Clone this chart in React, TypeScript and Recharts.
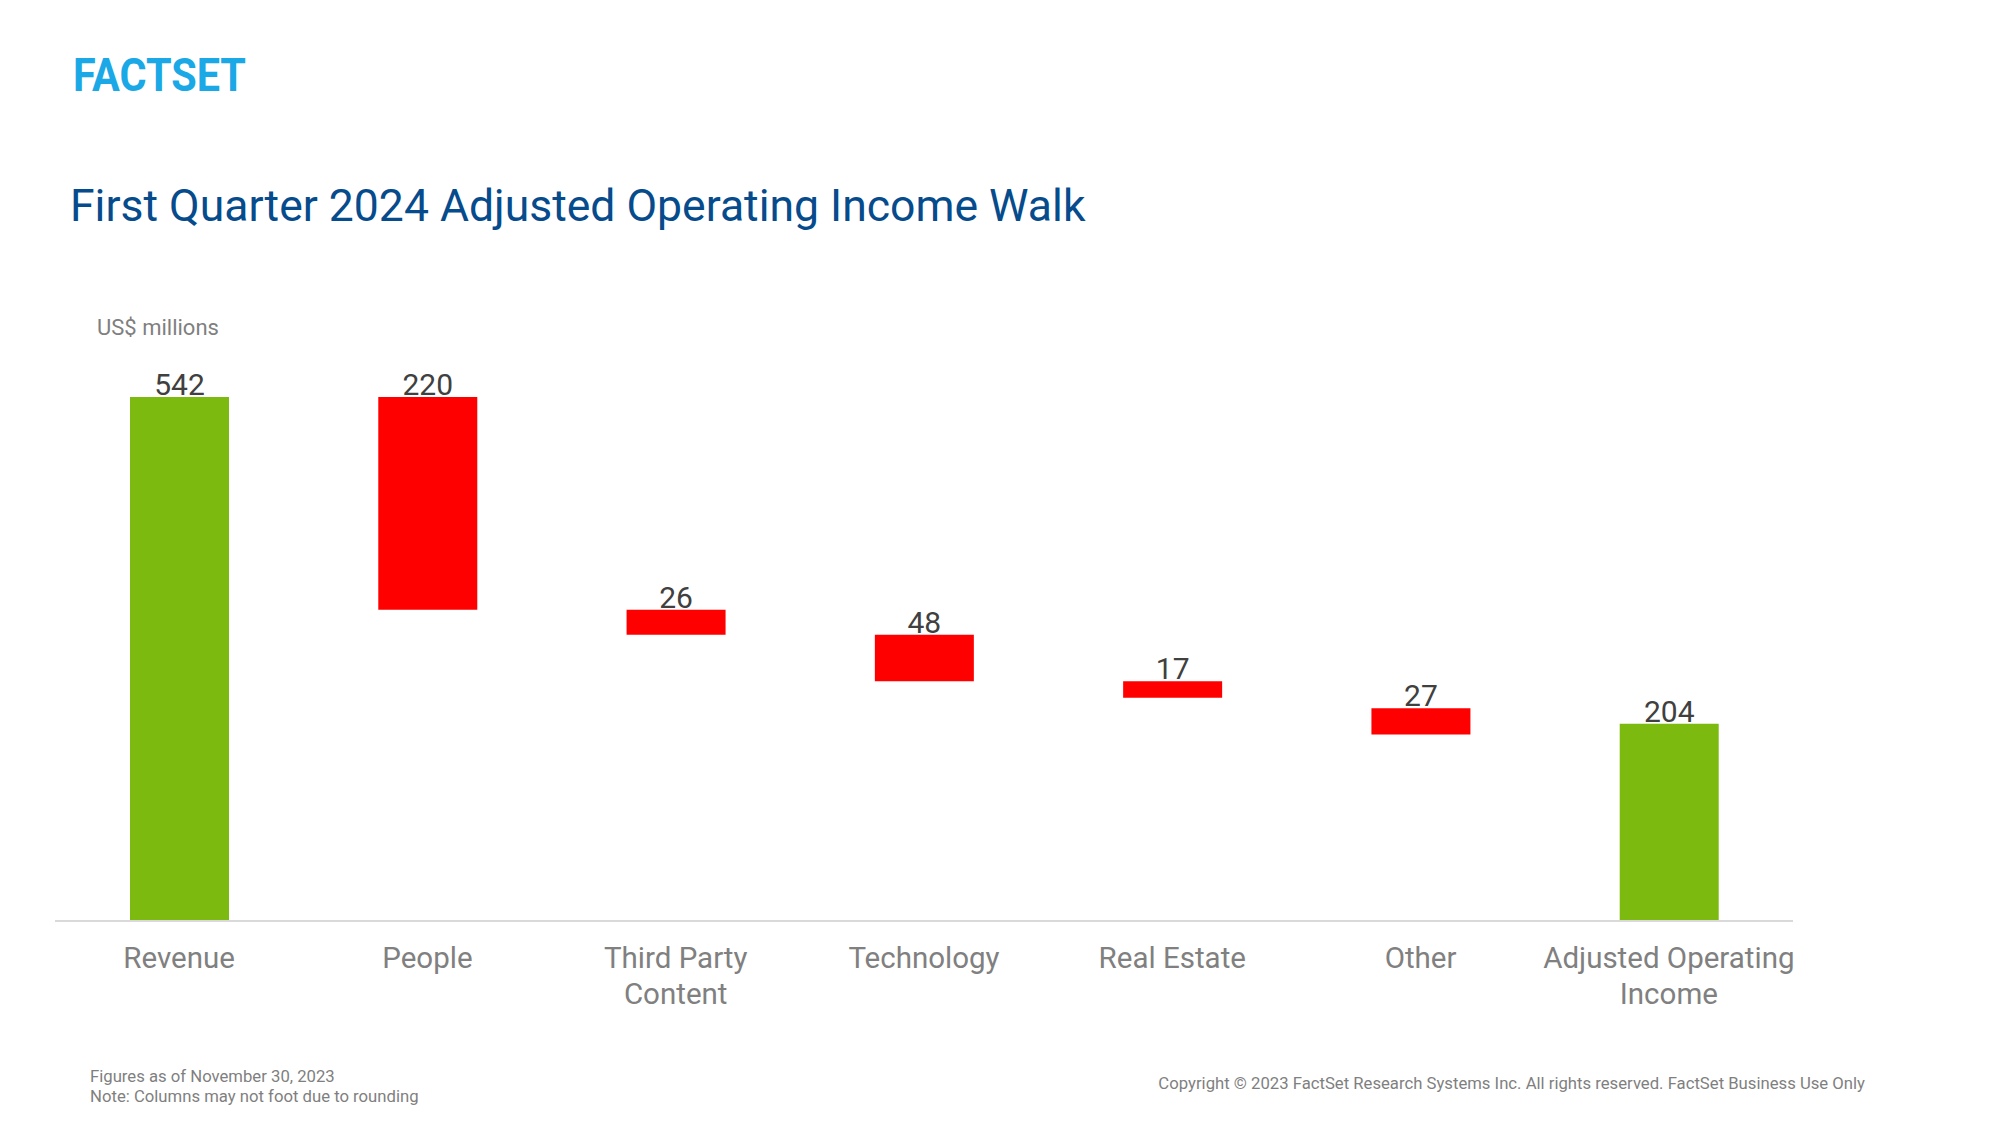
import React from "react";
import { BarChart, Bar, XAxis, YAxis, Cell, LabelList } from "recharts";

const categories = [
  "Revenue",
  "People",
  "Third Party\nContent",
  "Technology",
  "Real Estate",
  "Other",
  "Adjusted Operating\nIncome",
];
const values = [542, 220, 26, 48, 17, 27, 204];
// floating start level of each column
const bases = [0, 322, 296, 248, 231, 193, 0];
const kinds = ["total", "down", "down", "down", "down", "down", "total"];

const GREEN = "#7DBA0F";
const RED = "#FF0000";
const FONT = "Roboto, 'Noto Sans', sans-serif";

const data = categories.map((name, i) => ({
  name,
  base: bases[i],
  value: values[i],
  kind: kinds[i],
}));

const CategoryTick = (props: any) => {
  const { x, y, payload } = props;
  const lines = String(payload.value).split("\n");
  return (
    <g>
      {lines.map((l, i) => (
        <text
          key={i}
          x={x}
          y={y + 47 + i * 36}
          textAnchor="middle"
          fontFamily={FONT}
          fontSize={29.5}
          fill="#808080"
        >
          {l}
        </text>
      ))}
    </g>
  );
};

export default function App() {
  return (
    <div
      style={{
        position: "absolute",
        left: 0,
        top: 0,
        width: 2000,
        height: 1125,
        background: "#ffffff",
        overflow: "hidden",
      }}
    >
      <BarChart
        width={2000}
        height={1125}
        data={data}
        margin={{ top: 341, right: 207, bottom: 144, left: 55 }}
        barSize={99}
      >
        <XAxis
          dataKey="name"
          height={60}
          tickLine={false}
          tickSize={0}
          tickMargin={0}
          axisLine={{ stroke: "#D9D9D9", strokeWidth: 2 }}
          tick={<CategoryTick />}
          interval={0}
        />
        <YAxis hide domain={[0, 600]} />
        <Bar dataKey="base" stackId="w" fill="transparent" isAnimationActive={false} />
        <Bar dataKey="value" stackId="w" isAnimationActive={false}>
          {data.map((d, i) => (
            <Cell key={i} fill={d.kind === "total" ? GREEN : RED} />
          ))}
          <LabelList
            dataKey="value"
            position="top"
            offset={2}
            fill="#404040"
            fontSize={30}
            fontFamily={FONT}
          />
        </Bar>
      </BarChart>
      <svg
        width={2000}
        height={1125}
        style={{ position: "absolute", left: 0, top: 0, pointerEvents: "none" }}
      >
        <text
          x={73}
          y={91}
          fontFamily={FONT}
          fontWeight={700}
          fontSize={46}
          fill="#1BA8E6"
          textLength={173}
          lengthAdjust="spacingAndGlyphs"
        >
          FACTSET
        </text>
        <text x={70} y={220.5} fontFamily={FONT} fontSize={44.5} fill="#064B8C">
          First Quarter 2024 Adjusted Operating Income Walk
        </text>
        <text x={97} y={335} fontFamily={FONT} fontSize={22} fill="#7F7F7F">
          US$ millions
        </text>
        <text x={90} y={1082} fontFamily={FONT} fontSize={16.7} fill="#7F7F7F">
          Figures as of November 30, 2023
        </text>
        <text x={90} y={1102} fontFamily={FONT} fontSize={16.7} fill="#7F7F7F">
          Note: Columns may not foot due to rounding
        </text>
        <text
          x={1865}
          y={1089}
          fontFamily={FONT}
          fontSize={16.7}
          fill="#7F7F7F"
          textAnchor="end"
        >
          Copyright © 2023 FactSet Research Systems Inc. All rights reserved. FactSet Business Use Only
        </text>
      </svg>
    </div>
  );
}
